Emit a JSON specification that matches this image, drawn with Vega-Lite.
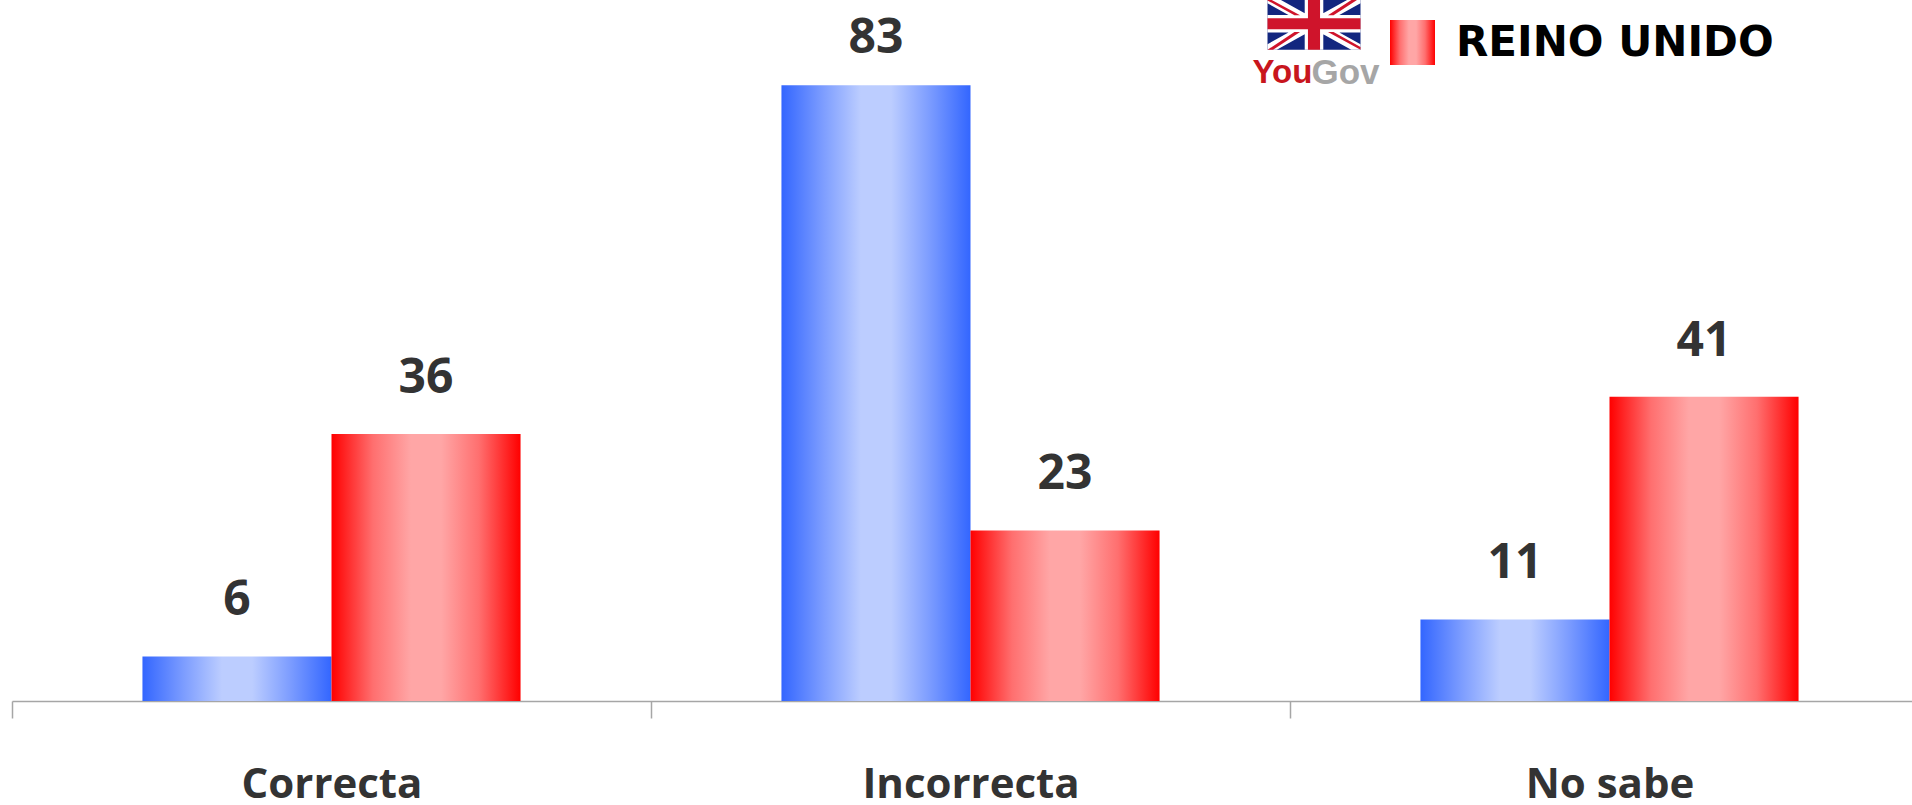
{
  "$schema": "https://vega.github.io/schema/vega-lite/v6.json",
  "width": 1900,
  "height": 701,
  "autosize": {"type": "none"},
  "padding": {"left": 12, "top": 0, "right": 0, "bottom": 104},
  "background": "#ffffff",
  "view": {"stroke": null},
  "datasets": {
    "principal": [
      {"respuesta": "Correcta", "serie": "Serie azul", "valor": 6},
      {"respuesta": "Correcta", "serie": "REINO UNIDO", "valor": 36},
      {"respuesta": "Incorrecta", "serie": "Serie azul", "valor": 83},
      {"respuesta": "Incorrecta", "serie": "REINO UNIDO", "valor": 23},
      {"respuesta": "No sabe", "serie": "Serie azul", "valor": 11},
      {"respuesta": "No sabe", "serie": "REINO UNIDO", "valor": 41}
    ],
    "logoYou": [{"marca": "You", "respuesta": "No sabe", "valor": 84.7}],
    "logoGov": [{"marca": "Gov", "respuesta": "No sabe", "valor": 84.7}],
    "bandera": [{"elemento": "bandera", "respuesta": "No sabe", "valor": 91.3}]
  },
  "encoding": {
    "x": {
      "field": "respuesta", "type": "nominal",
      "scale": {"domain": ["Correcta", "Incorrecta", "No sabe"], "range": [0, 1917], "paddingInner": 0, "paddingOuter": 0},
      "axis": {"title": null, "labelAngle": 0, "tickBand": "extent", "domainColor": "#a6a6a6", "tickColor": "#a6a6a6", "tickSize": 17, "domainWidth": 1.5, "tickWidth": 1.5, "labelFont": "Open Sans", "labelFontWeight": 700, "labelFontSize": 42, "labelColor": "#333333", "labelPadding": 66, "labelBaseline": "middle", "labelLimit": 600}
    },
    "y": {
      "field": "valor", "type": "quantitative",
      "scale": {"domain": [0, 94.5], "nice": false},
      "axis": null
    }
  },
  "layer": [
    {
      "data": {"name": "principal"},
      "transform": [{"filter": "datum.serie === 'Serie azul'"}],
      "mark": {"type": "bar", "fill": {"gradient": "linear", "x1": 0, "x2": 1, "y1": 0, "y2": 0, "stops": [
        {"offset": 0, "color": "#3366ff"}, {"offset": 0.22, "color": "#7d9dff"}, {"offset": 0.42, "color": "#bccdff"}, {"offset": 0.58, "color": "#bccdff"}, {"offset": 0.78, "color": "#7d9dff"}, {"offset": 1, "color": "#3366ff"}]}},
      "encoding": {"xOffset": {"field": "serie", "type": "nominal", "scale": {"domain": ["Serie azul", "REINO UNIDO"], "paddingInner": 0, "paddingOuter": 0.69}}}
    },
    {
      "data": {"name": "principal"},
      "transform": [{"filter": "datum.serie === 'REINO UNIDO'"}],
      "mark": {"type": "bar", "strokeWidth": 0, "fill": {"gradient": "linear", "x1": 0, "x2": 1, "y1": 0, "y2": 0, "stops": [
        {"offset": 0, "color": "#ff0000"}, {"offset": 0.22, "color": "#ff6f6f"}, {"offset": 0.42, "color": "#ffa6a6"}, {"offset": 0.58, "color": "#ffa6a6"}, {"offset": 0.78, "color": "#ff6f6f"}, {"offset": 1, "color": "#ff0000"}]}},
      "encoding": {
        "xOffset": {"field": "serie", "type": "nominal", "scale": {"domain": ["Serie azul", "REINO UNIDO"], "paddingInner": 0, "paddingOuter": 0.69}},
        "stroke": {
          "field": "serie", "type": "nominal",
          "scale": {"domain": ["REINO UNIDO"], "range": ["#ff0000"]},
          "legend": {
            "title": null, "orient": "none", "legendX": 1378, "legendY": 20,
            "symbolType": "square", "symbolSize": 2025, "symbolStrokeWidth": 0, "symbolOpacity": 1,
            "labelFont": "DejaVu Sans", "labelFontWeight": "bold", "labelFontSize": 42, "labelColor": "#000000", "labelOffset": 21, "labelLimit": 500,
            "encoding": {
              "symbols": {"update": {"fill": {"value": {"gradient": "linear", "x1": 0, "x2": 1, "y1": 0, "y2": 0, "stops": [
              {"offset": 0, "color": "#ff2020"}, {"offset": 0.45, "color": "#ffa6a6"}, {"offset": 0.6, "color": "#ffa6a6"}, {"offset": 1, "color": "#ff1010"}]}}}}}
          }
        }
      }
    },
    {
      "data": {"name": "principal"},
      "transform": [{"filter": "datum.valor !== 83"}],
      "mark": {"type": "text", "font": "Open Sans", "fontWeight": 700, "fontSize": 48, "color": "#333333", "dy": -55, "baseline": "middle"},
      "encoding": {"xOffset": {"field": "serie", "type": "nominal", "scale": {"domain": ["Serie azul", "REINO UNIDO"], "paddingInner": 0, "paddingOuter": 0.69}}, "text": {"field": "valor", "type": "quantitative"}}
    },
    {
      "data": {"name": "principal"},
      "transform": [{"filter": "datum.valor === 83"}],
      "mark": {"type": "text", "font": "Open Sans", "fontWeight": 700, "fontSize": 48, "color": "#333333", "dy": -46, "baseline": "middle"},
      "encoding": {"xOffset": {"field": "serie", "type": "nominal", "scale": {"domain": ["Serie azul", "REINO UNIDO"], "paddingInner": 0, "paddingOuter": 0.69}}, "text": {"field": "valor", "type": "quantitative"}}
    },
    {
      "data": {"name": "logoYou"},
      "mark": {"type": "text", "font": "Liberation Sans", "fontWeight": "bold", "fontSize": 33, "color": "#c8161d", "align": "left", "baseline": "middle", "dx": -357},
      "encoding": {"text": {"field": "marca"}}
    },
    {
      "data": {"name": "logoGov"},
      "mark": {"type": "text", "font": "Liberation Sans", "fontWeight": "bold", "fontSize": 35, "color": "#a6a6a6", "align": "left", "baseline": "middle", "dx": -298},
      "encoding": {"text": {"field": "marca"}}
    },
    {
      "data": {"name": "bandera"},
      "mark": {"type": "point", "filled": true, "opacity": 1, "size": 8649, "color": "#12267f", "shape": "M-1 -.56H1V.56H-1Z"},
      "encoding": {"xOffset": {"value": 24}}
    },
    {
      "data": {"name": "bandera"},
      "mark": {"type": "point", "filled": true, "opacity": 1, "size": 8649, "color": "#ffffff", "shape": "M-1 -.56L-.8 -.56L1 .44V.56H.8L-1 -.44ZM1 -.56V-.44L-.8 .56H-1V.44L.8 -.56ZM-.2 -.56H.2V-.19H1V.19H.2V.56H-.2V.19H-1V-.19H-.2Z"},
      "encoding": {"xOffset": {"value": 24}}
    },
    {
      "data": {"name": "bandera"},
      "mark": {"type": "point", "filled": true, "opacity": 1, "size": 8649, "color": "#cf142b", "shape": "M-.13 -.56H.13V-.12H1V.12H.13V.56H-.13V.12H-1V-.12H-.13ZM-1 -.56L-.3 -.18H-.42L-1 -.5ZM1 .56L.3 .18H.42L1 .5ZM1 -.56L.42 -.18H.3L.88 -.56ZM-1 .56L-.42 .18H-.3L-.88 .56Z"},
      "encoding": {"xOffset": {"value": 24}}
    }
  ]
}
